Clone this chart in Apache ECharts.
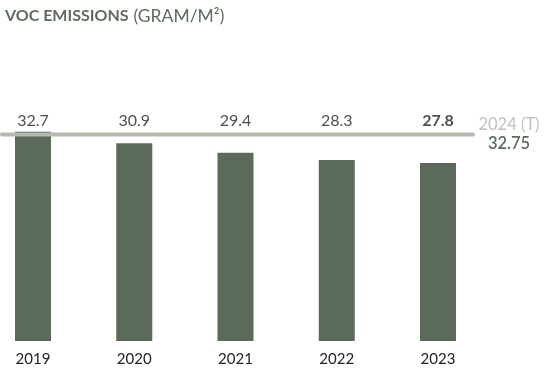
<!DOCTYPE html>
<html>
<head>
<meta charset="utf-8">
<script src="https://cdn.jsdelivr.net/npm/echarts@6/dist/echarts.min.js"></script>
<style>html,body{margin:0;padding:0;background:#fff}#c{width:545px;height:371px}</style>
</head>
<body>
<div id="c"></div>
<script>
const years = ['2019', '2020', '2021', '2022', '2023'];
const emissions = [32.7, 30.9, 29.4, 28.3, 27.8];
const targetYearLabel = '2024 (T)';
const targetValue = 32.75;

const FONT = 'Lato, "Noto Sans", sans-serif';
const BAR = '#5b6a5a';
const LABEL_ROW = 34.4; // value-axis level where the value labels row sits

const chart = echarts.init(document.getElementById('c'), null, {renderer: 'canvas'});
chart.setOption({
  animation: false,
  title: {
    left: 0, top: 2,
    text: '{b|VOC EMISSIONS} {r|(GRAM/M²)}',
    textStyle: {
      rich: {
        b: {fontFamily: FONT, fontWeight: 'bold', fontSize: 16, color: '#5e6d5d'},
        r: {fontFamily: FONT, fontWeight: 'normal', fontSize: 17.5, color: '#5e6d5d'}
      }
    }
  },
  grid: [
    {left: 33, right: 107, top: 85, bottom: 30},
    {left: 2, width: 471, top: 88, bottom: 27}
  ],
  xAxis: [
    {
      gridIndex: 0, type: 'category', data: years, boundaryGap: false,
      axisLine: {show: false}, axisTick: {show: false}, splitLine: {show: false},
      axisLabel: {margin: 11, fontFamily: FONT, fontSize: 15, color: '#222'}
    },
    {gridIndex: 1, type: 'value', min: 0, max: 1, show: false}
  ],
  yAxis: [
    {gridIndex: 0, type: 'value', min: 0, max: 40, show: false},
    {gridIndex: 1, type: 'value', min: 0, max: 40, show: false}
  ],
  series: [
    {
      type: 'bar', xAxisIndex: 0, yAxisIndex: 0,
      data: emissions, barWidth: 36,
      itemStyle: {color: BAR}
    },
    {
      type: 'line', xAxisIndex: 1, yAxisIndex: 1,
      data: [[0, targetValue], [1, targetValue]],
      symbol: 'none', z: 5,
      lineStyle: {color: '#b4bab2', width: 4, cap: 'round'},
      endLabel: {
        show: true,
        formatter: '{a|' + targetYearLabel + '}\n{b|' + targetValue + '}',
        align: 'center',
        offset: [28, 0],
        rich: {
          a: {fontFamily: FONT, fontSize: 16.5, color: '#bfc3bd', lineHeight: 19, align: 'center'},
          b: {fontFamily: FONT, fontSize: 16.5, color: BAR, lineHeight: 19, align: 'center', fontWeight: 600}
        }
      }
    },
    {
      type: 'scatter', xAxisIndex: 0, yAxisIndex: 0,
      symbolSize: 0, z: 6,
      data: emissions.map((v, i) => ({
        value: [years[i], LABEL_ROW],
        label: {fontWeight: i === emissions.length - 1 ? 'bold' : 'normal'}
      })),
      label: {
        show: true, position: 'inside',
        fontFamily: FONT, fontSize: 16, color: '#222',
        formatter: p => emissions[p.dataIndex].toFixed(1)
      }
    }
  ]
});
</script>
</body>
</html>
